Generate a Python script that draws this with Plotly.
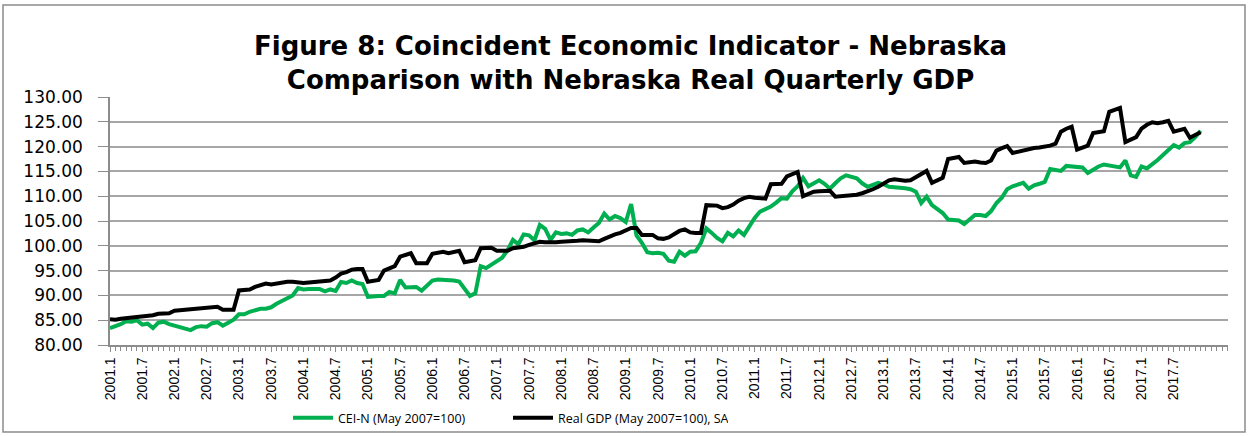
import plotly.graph_objects as go

# Monthly categories 2001.1 .. 2017.12
categories = [f"{y}.{m}" for y in range(2001, 2018) for m in range(1, 13)]

cei_n = [
    83.4, 83.7, 84.2, 84.8, 84.7, 85.0, 84.1, 84.3, 83.4, 84.5, 84.7, 84.2,
    83.9, 83.7, 83.2, 83.0, 83.6, 83.8, 83.7, 84.4, 84.6, 83.9, 84.5, 85.1,
    86.2, 86.2, 86.7, 87.1, 87.3, 87.3, 87.6, 88.3, 88.9, 89.3, 90.0, 91.5,
    91.2, 91.3, 91.4, 91.3, 90.8, 91.2, 90.9, 92.7, 92.5, 93.0, 92.5, 92.3,
    89.7, 89.9, 89.9, 89.9, 90.7, 90.4, 93.1, 91.6, 91.6, 91.7, 90.95, 92.0,
    93.0, 93.2, 93.2, 93.0, 93.0, 92.8, 91.3, 89.9, 90.4, 95.9, 95.5, 96.2,
    96.8, 97.6, 99.1, 101.2, 100.3, 102.3, 102.1, 101.1, 104.2, 103.4, 101.2, 102.7,
    102.4, 102.5, 102.2, 103.1, 103.3, 102.7, 103.7, 104.6, 106.5, 105.3, 106.0, 105.6,
    104.8, 108.4, 102.1, 100.6, 98.7, 98.5, 98.6, 98.4, 97.0, 96.8, 98.8, 98.0,
    98.8, 98.9, 100.6, 103.5, 102.6, 101.6, 100.9, 102.6, 101.9, 103.1, 102.2, 104.0,
    105.6, 106.9, 107.4, 107.9, 108.7, 109.6, 109.5, 111.0, 112.0, 113.7, 112.0, 112.6,
    113.2, 112.5, 111.5, 112.6, 113.6, 114.2, 114.0, 113.6, 112.6, 111.9, 112.3, 112.7,
    112.4, 111.9, 111.8, 111.8, 111.6, 111.4, 110.9, 108.6, 109.9, 108.2, 107.5, 106.6,
    105.3, 105.3, 105.1, 104.4, 105.4, 106.2, 106.2, 106.0, 107.0, 108.6, 109.7, 111.4,
    112.0, 112.4, 112.7, 111.5, 112.2, 112.5, 112.9, 115.5, 115.3, 115.1, 116.1, 116.0,
    115.8, 115.8, 114.7, 115.4, 116.0, 116.4, 116.2, 116.1, 115.8, 117.2, 114.2, 113.9,
    116.0, 115.6, 116.4, 117.3, 118.3, 119.3, 120.3, 119.8, 120.7, 120.9, 121.9, 123.2,
]

real_gdp = [
    85.2, 85.1, 85.3, 85.4, 85.5, 85.6, 85.6, 85.7, 86.0, 86.3, 86.4, 86.4,
    86.9, 87.0, 87.0, 87.0, 87.2, 87.4, 87.5, 87.6, 87.7, 87.1, 87.1, 87.1,
    91.0, 91.0, 91.2, 91.7, 92.1, 92.4, 92.2, 92.4, 92.7, 92.75, 92.75, 92.6,
    92.5, 92.6, 92.7, 92.6, 92.7, 93.0, 93.6, 94.4, 94.7, 95.2, 95.3, 95.3,
    92.75, 92.9, 93.1, 95.0, 95.5, 95.9, 97.8, 98.2, 98.5, 96.5, 96.5, 96.5,
    98.4, 98.7, 98.8, 98.5, 98.7, 99.0, 96.7, 96.9, 97.1, 99.5, 99.5, 99.6,
    99.0, 98.9, 99.0, 99.5, 99.6, 99.8, 100.2, 100.6, 100.8, 100.7, 100.6, 100.7,
    100.8, 100.8, 100.9, 101.0, 101.1, 101.1, 101.0, 100.9, 101.4, 101.9, 102.3, 102.6,
    103.2, 103.6, 103.6, 102.2, 102.2, 102.2, 101.5, 101.4, 101.7, 102.4, 103.0, 103.3,
    102.7, 102.6, 102.6, 108.2, 108.2, 108.1, 107.6, 107.8, 108.3, 109.1, 109.6, 109.9,
    109.7, 109.5, 109.5, 112.4, 112.4, 112.5, 114.0, 114.4, 114.9, 110.0, 110.5, 110.9,
    111.0, 111.1, 111.1, 109.9, 110.0, 110.0, 110.1, 110.3, 110.6, 110.9, 111.4, 111.9,
    112.5, 113.2, 113.4, 113.2, 113.1, 113.2, 113.9, 114.5, 115.1, 112.7, 113.3, 113.7,
    117.5, 117.7, 117.9, 116.7, 116.8, 117.0, 116.8, 116.7, 117.2, 119.2, 119.7, 120.1,
    118.7, 119.0, 119.3, 119.5, 119.7, 119.8, 119.9, 120.2, 120.6, 123.0, 123.6, 124.0,
    119.4, 119.8, 120.2, 122.75, 122.9, 123.1, 127.0, 127.4, 127.8, 120.9, 121.3, 121.9,
    123.6, 124.4, 124.9, 124.7, 124.9, 125.2, 123.0, 123.2, 123.6, 121.8, 122.4, 122.9,
]

series_names = ["CEI-N (May 2007=100)", "Real GDP (May 2007=100), SA"]
title_lines = ["Figure 8: Coincident Economic Indicator - Nebraska",
               "Comparison with Nebraska Real Quarterly GDP"]
y_ticks = [80, 85, 90, 95, 100, 105, 110, 115, 120, 125, 130]

x_idx = list(range(len(categories)))
tick_pos = x_idx[::6]
tick_labels = categories[::6]

fig = go.Figure()
fig.add_trace(go.Scatter(x=x_idx, y=cei_n, mode="lines", name=series_names[0],
                         line=dict(color="#00B050", width=4)))
fig.add_trace(go.Scatter(x=x_idx, y=real_gdp, mode="lines", name=series_names[1],
                         line=dict(color="#000000", width=4)))

L, R, T, B = 110, 21, 97, 91
W, H = 1249, 436
pw, ph = W - L - R, H - T - B

def px_x(p):
    return (p - L) / pw

def px_y(p):
    return (H - B - p) / ph

fig.update_layout(
    width=W, height=H,
    margin=dict(l=L, r=R, t=T, b=B, autoexpand=False),
    paper_bgcolor="white", plot_bgcolor="white",
    showlegend=True,
    legend=dict(orientation="h", x=px_x(288), xanchor="left", y=px_y(418), yanchor="middle",
                font=dict(family="Open Sans", size=12.5, color="#000000"),
                itemwidth=40, entrywidth=165, bgcolor="rgba(0,0,0,0)", traceorder="normal"),
    xaxis=dict(range=[0, 208.1], tickmode="array", tickvals=tick_pos, ticktext=tick_labels,
               tickangle=-90, ticks="outside", ticklen=5, tickcolor="#8c8c8c",
               showgrid=False, zeroline=False, showline=True, linecolor="#8c8c8c", linewidth=1.5,
               automargin=False,
               tickfont=dict(family="Liberation Sans", size=14, color="#000000"),
               minor=dict(dtick=1, tick0=0, ticks="outside", ticklen=4, tickcolor="#8c8c8c", showgrid=False)),
    yaxis=dict(range=[80, 130], tickmode="array", tickvals=y_ticks,
               ticktext=[f"{v:.2f}" for v in y_ticks],
               ticks="outside", ticklen=10, tickcolor="#8c8c8c", ticklabelstandoff=12,
               showgrid=True, gridcolor="#a6a6a6", gridwidth=1.5, zeroline=False,
               showline=True, linecolor="#8c8c8c", linewidth=1.5, automargin=False,
               tickfont=dict(family="DejaVu Sans", size=17, color="#000000")),
)

fig.add_annotation(text=f"<b>{title_lines[0]}</b><br><b>{title_lines[1]}</b>", xref="paper", yref="paper",
                   x=px_x(630), y=px_y(63), xanchor="center", yanchor="middle", showarrow=False,
                   font=dict(family="DejaVu Sans", size=26, color="#000000"))

fig.add_shape(type="rect", xref="paper", yref="paper",
              x0=px_x(3), x1=px_x(1245), y0=px_y(432), y1=px_y(5),
              line=dict(color="#8c8c8c", width=1.5), fillcolor="rgba(0,0,0,0)", layer="below")

fig.write_html("out.html", config={"displayModeBar": False},
               post_script="document.body.style.margin='0';")
